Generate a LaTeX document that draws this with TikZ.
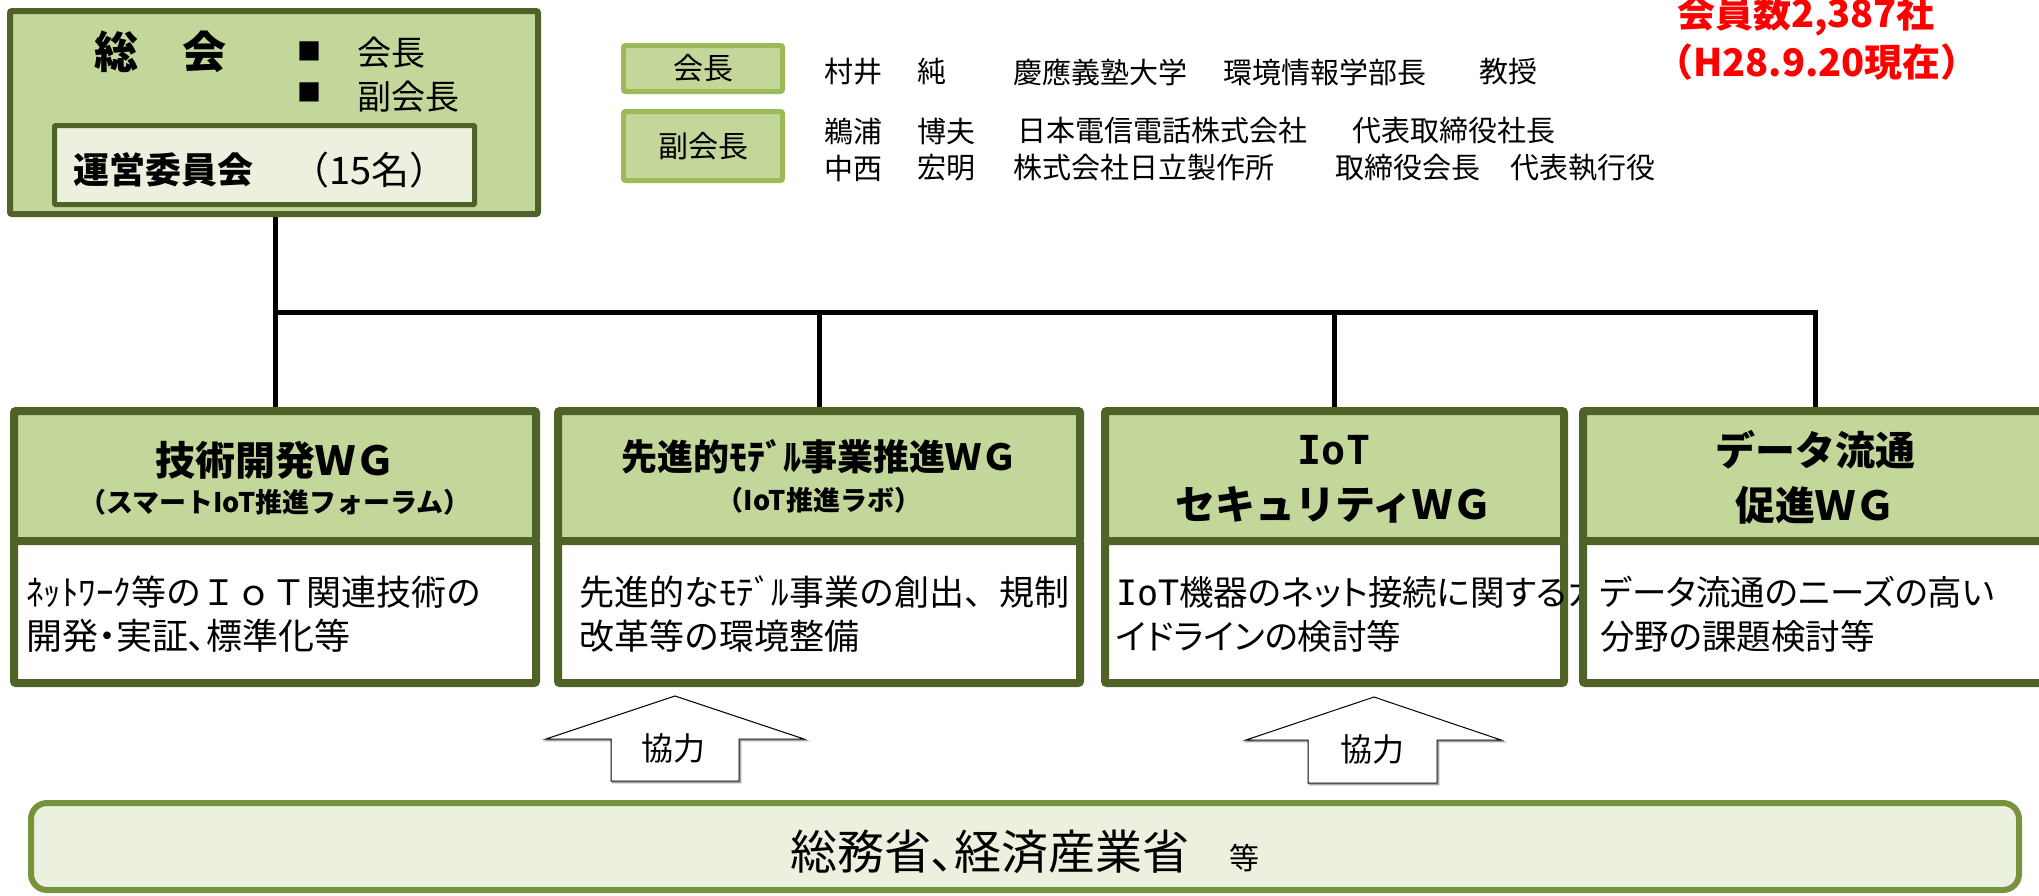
\documentclass[tikz,border=0pt]{standalone}
\usepackage{fontspec}
\setmainfont{Noto Sans CJK JP}
\newfontfamily\monofnt{DejaVu Sans Mono}
\newfontfamily\propfnt[RawFeature=+palt]{Noto Sans CJK JP}
\usetikzlibrary{backgrounds}
\newcommand\myfs[1]{\fontsize{#1pt}{#1pt}\selectfont}
\definecolor{olivedk}{HTML}{4F6228}
\definecolor{hdrfill}{HTML}{C4D79B}
\definecolor{lblbord}{HTML}{9BBB59}
\definecolor{govbord}{HTML}{77933C}
\definecolor{govfill}{HTML}{EBF1DE}
\definecolor{redtxt}{HTML}{FF0000}
\begin{document}
\begin{tikzpicture}[x=1pt,y=-1pt,
  txt/.style={inner sep=0pt, outer sep=0pt},
  wghead/.style={draw=olivedk, line width=8pt, fill=hdrfill, rounded corners=2pt, minimum height=130pt, inner sep=0pt},
  wgbody/.style={draw=olivedk, line width=8pt, fill=white, rounded corners=2pt, minimum height=142pt, inner sep=0pt},
  hdtxt/.style={txt, font=\bfseries},
  bdtxt/.style={txt, anchor=west, font=\myfs{35}},
  bdptxt/.style={txt, anchor=west, font=\propfnt\myfs{34.5}},
  lsttxt/.style={txt, anchor=west, font=\myfs{29}},
  lblbox/.style={draw=lblbord, line width=5pt, fill=hdrfill, rounded corners=2pt, inner sep=0pt, minimum width=159pt, font=\myfs{30}},
  conn/.style={draw=black, line width=5pt},
  blockarrow/.style={draw=black, line width=1pt, fill=white, line join=miter},
  arrshadow/.style={draw=black!35, line width=1.5pt},
]
\useasboundingbox (0,0) rectangle (2039,895);

% ---------- 総会 box ----------
\node[draw=olivedk, line width=6pt, fill=hdrfill, rounded corners=2pt, minimum width=528pt, minimum height=203pt, inner sep=0pt] (sokai) at (274,112.5) {};
\node[hdtxt, font=\bfseries\myfs{44}] (sokaitxt) at (160,52) {総　会};
\node[txt, font=\myfs{24}] (sq1) at (309,51) {■};
\node[txt, font=\myfs{24}] (sq2) at (309,92) {■};
\node[txt, anchor=west, font=\myfs{34}] (kaicho) at (357,53) {会長};
\node[txt, anchor=west, font=\myfs{34}] (fukukaicho) at (357,97) {副会長};
\node[draw=olivedk, line width=5pt, fill=govfill, rounded corners=1pt, minimum width=420pt, minimum height=79pt, inner sep=0pt] (unei) at (264.5,165) {};
\node[txt, anchor=west, font=\bfseries\myfs{36}] (ueitxt) at (73,170) {運営委員会};
\node[txt, anchor=west, font=\myfs{38}] (uenum) at (291,170) {（15名）};

% ---------- 会長 / 副会長 list ----------
\node[lblbox, minimum height=46pt] (lb1) at (703,68.5) {会長};
\node[lblbox, minimum height=69pt] (lb2) at (703,146) {副会長};
\node[lsttxt] (l1a) at (824,72) {村井};
\node[lsttxt] (l1b) at (917,72) {純};
\node[lsttxt] (l1c) at (1013,72) {慶應義塾大学};
\node[lsttxt] (l1d) at (1223,72) {環境情報学部長};
\node[lsttxt] (l1e) at (1479,72) {教授};
\node[lsttxt] (l2a) at (824,131) {鵜浦};
\node[lsttxt] (l2b) at (917,131) {博夫};
\node[lsttxt] (l2c) at (1017,131) {日本電信電話株式会社};
\node[lsttxt] (l2d) at (1352,131) {代表取締役社長};
\node[lsttxt] (l3a) at (824,168) {中西};
\node[lsttxt] (l3b) at (917,168) {宏明};
\node[lsttxt] (l3c) at (1013,168) {株式会社日立製作所};
\node[lsttxt] (l3d) at (1335,168) {取締役会長};
\node[lsttxt] (l3e) at (1510,168) {代表執行役};

% ---------- red note ----------
\node[txt, anchor=west, text=redtxt, font=\bfseries\myfs{38}] (memb) at (1677,16) {会員数2,387社};
\node[txt, anchor=west, text=redtxt, font=\bfseries\myfs{38}] (date) at (1655,62) {（H28.9.20現在）};

% ---------- WG boxes ----------
\node[wghead, minimum width=522pt] (h1) at (275,476) {};
\node[wgbody, minimum width=522pt] (b1) at (275,612) {};
\node[hdtxt, font=\bfseries\myfs{40}] (t1a) at (275,460) {技術開発ＷＧ};
\node[hdtxt, font=\bfseries\myfs{27}] (t1b) at (275,502) {（スマートIoT推進フォーラム）};
\node[bdtxt] (d1a) at (26,592) {ﾈｯﾄﾜｰｸ等のＩｏＴ関連技術の};
\node[bdptxt, font=\propfnt\myfs{36}] (d1b) at (26,636) {開発・実証、標準化等};

\node[wghead, minimum width=522pt] (h2) at (819,476) {};
\node[wgbody, minimum width=522pt] (b2) at (819,612) {};
\node[hdtxt, font=\bfseries\myfs{36}] (t2a) at (819,457) {先進的ﾓﾃﾞﾙ事業推進ＷＧ};
\node[hdtxt, font=\bfseries\myfs{27}] (t2b) at (819,500) {（IoT推進ラボ）};
\node[bdtxt] (d2a) at (579,592) {先進的なﾓﾃﾞﾙ事業の創出、規制};
\node[bdtxt] (d2b) at (579,636) {改革等の環境整備};

\node[wghead, minimum width=459pt] (h3) at (1334.5,476) {};
\node[wgbody, minimum width=459pt] (b3) at (1334.5,612) {};
\node[hdtxt, font=\bfseries\myfs{40}] (t3a) at (1334,450) {\monofnt IoT};
\node[hdtxt, font=\bfseries\myfs{40}] (t3b) at (1334,505) {セキュリティＷＧ};
\node[bdptxt] (d3a) at (1116,592) {{\monofnt\myfs{35}IoT}機器のネット接続に関するガ};
\node[bdptxt] (d3b) at (1116,636) {イドラインの検討等};

\node[wghead, minimum width=464pt] (h4) at (1815,476) {};
\node[wgbody, minimum width=464pt] (b4) at (1815,612) {};
\node[hdtxt, font=\bfseries\myfs{40}] (t4a) at (1815,450) {データ流通};
\node[hdtxt, font=\bfseries\myfs{40}] (t4b) at (1815,505) {促進ＷＧ};
\node[bdptxt] (d4a) at (1600,592) {データ流通のニーズの高い};
\node[bdptxt] (d4b) at (1600,636) {分野の課題検討等};

% ---------- connectors ----------
\coordinate (bus) at (0,312);
\begin{pgfonlayer}{background}
\draw[conn] (sokai.south -| h1.north) -- (h1.north);
\draw[conn, line join=miter] (h1.north |- bus) -- (h4.north |- bus) -- (h4.north);
\draw[conn] (h2.north |- bus) -- (h2.north);
\draw[conn] (h3.north |- bus) -- (h3.north);
\end{pgfonlayer}

% ---------- block arrows ----------
\draw[arrshadow, shift={(1.5,1.5)}] (675,696) -- (804,739) -- (739,739) -- (739,781) -- (611,781) -- (611,739) -- (546,739) -- cycle;
\draw[blockarrow] (675,696) -- (804,739) -- (739,739) -- (739,781) -- (611,781) -- (611,739) -- (546,739) -- cycle;
\node[txt, font=\myfs{32}] (coop1) at (673,748) {協力};
\draw[arrshadow, shift={(1.5,1.5)}] (1374,697) -- (1501,740) -- (1437,740) -- (1437,783) -- (1308,783) -- (1308,740) -- (1246,740) -- cycle;
\draw[blockarrow] (1374,697) -- (1501,740) -- (1437,740) -- (1437,783) -- (1308,783) -- (1308,740) -- (1246,740) -- cycle;
\node[txt, font=\myfs{32}] (coop2) at (1372,749) {協力};

% ---------- ministries ----------
\node[draw=govbord, line width=6pt, fill=govfill, rounded corners=16pt, minimum width=1988pt, minimum height=87pt, inner sep=0pt] (gov) at (1025,846.5) {};
\node[txt] (govtxt) at (1025,852) {{\propfnt\myfs{47}総務省、経済産業省}\hspace{40pt}{\myfs{30}等}};
\end{tikzpicture}
\end{document}
